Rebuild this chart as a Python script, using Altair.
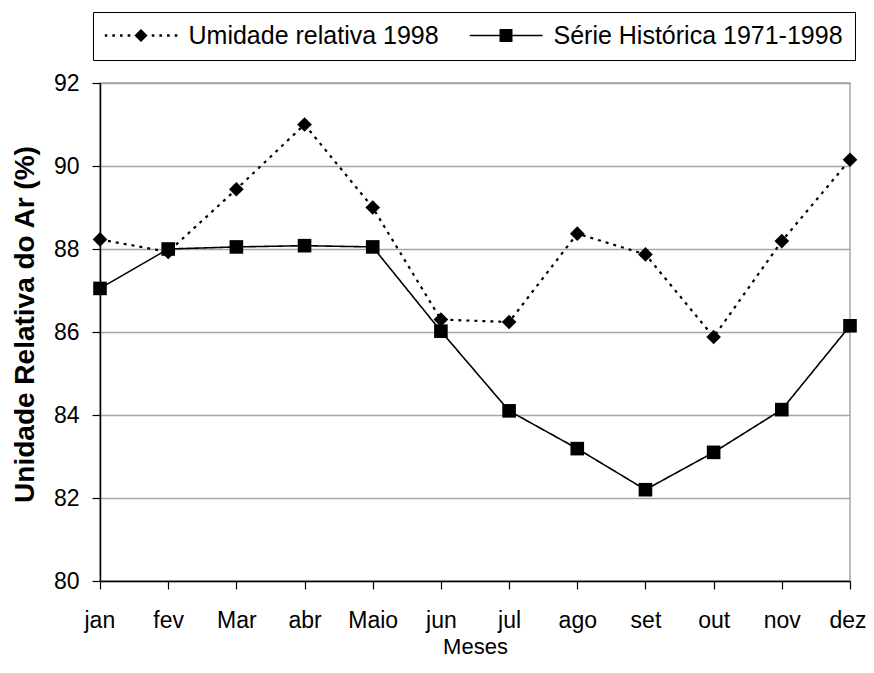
import altair as alt
import pandas as pd

months = ["jan", "fev", "Mar", "abr", "Maio", "jun", "jul", "ago", "set", "out", "nov", "dez"]
umidade_1998 = [88.23, 87.93, 89.44, 91.0, 89.0, 86.3, 86.24, 88.37, 87.87, 85.88, 88.19, 90.15]
serie_hist = [87.05, 88.0, 88.05, 88.08, 88.05, 86.02, 84.1, 83.19, 82.2, 83.1, 84.13, 86.15]
series = ["Umidade relativa 1998", "Série Histórica 1971-1998"]
y_ticks = [80, 82, 84, 86, 88, 90, 92]

rows = []
for m, v in zip(months, umidade_1998):
    rows.append({"mes": m, "valor": v, "serie": series[0]})
for m, v in zip(months, serie_hist):
    rows.append({"mes": m, "valor": v, "serie": series[1]})
df = pd.DataFrame(rows)

FONT = "Liberation Sans"

x_enc = alt.X(
    "mes:N",
    sort=months,
    scale=alt.Scale(type="point", padding=0),
    axis=alt.Axis(
        title="Meses",
        labelAngle=0,
        labelFontSize=23,
        labelFont=FONT,
        labelColor="black",
        labelBaseline="alphabetic",
        labelPadding=38,
        labelFlush=True,
        labelFlushOffset=16,
        tickSize=8,
        tickColor="black",
        tickWidth=1.2,
        domainColor="black",
        domainWidth=1.5,
        grid=False,
        titleFont=FONT,
        titleFontSize=22,
        titleFontWeight="normal",
        titleColor="black",
        titleBaseline="alphabetic",
        titleY=72,
    ),
)
y_enc = alt.Y(
    "valor:Q",
    scale=alt.Scale(domain=[80, 92], nice=False, zero=False),
    axis=alt.Axis(
        title="Unidade Relativa do Ar (%)",
        values=y_ticks,
        labelFontSize=23,
        labelFont=FONT,
        labelColor="black",
        labelPadding=13,
        tickSize=8,
        tickColor="black",
        tickWidth=1.2,
        domainColor="black",
        domainWidth=1.5,
        grid=True,
        gridColor="#a6a6a6",
        gridWidth=1.5,
        titleFont=FONT,
        titleFontSize=28,
        titleFontWeight="bold",
        titleColor="black",
        titleBaseline="alphabetic",
        titleX=-67,
        titleY=241,
    ),
)

base = alt.Chart(df)

lines = base.mark_line(color="black").encode(
    x=x_enc,
    y=y_enc,
    detail="serie:N",
    strokeDash=alt.StrokeDash(
        "serie:N",
        scale=alt.Scale(domain=series, range=[[3, 5], [1, 0]]),
        legend=None,
    ),
    strokeWidth=alt.StrokeWidth(
        "serie:N",
        scale=alt.Scale(domain=series, range=[2.2, 1.6]),
        legend=None,
    ),
)

points = base.mark_point(filled=True, color="black", opacity=1).encode(
    x=x_enc,
    y=y_enc,
    shape=alt.Shape(
        "serie:N",
        scale=alt.Scale(domain=series, range=["diamond", "square"]),
        legend=None,
    ),
    size=alt.Size(
        "serie:N",
        scale=alt.Scale(domain=series, range=[215, 185]),
        legend=None,
    ),
)

# legend symbols: dotted line with diamond, solid line with square
dot = 0.036
def dot_rect(c):
    return f"M{c - dot:.3f},{-dot:.3f}H{c + dot:.3f}V{dot:.3f}H{c - dot:.3f}Z"

diamond_sym = "M0,-0.18L0.18,0L0,0.18L-0.18,0Z" + "".join(
    dot_rect(c) for c in [-0.96, -0.75, -0.54, -0.33, 0.33, 0.54, 0.75, 0.96]
)
square_sym = "M-1,-0.022H1V0.022H-1Z M-0.178,-0.178H0.178V0.178H-0.178Z"

legend_layer = (
    base.transform_filter("false")
    .mark_point(filled=True, color="black", opacity=1)
    .encode(
        x=x_enc,
        y=y_enc,
        shape=alt.Shape(
            "serie:N",
            scale=alt.Scale(domain=series, range=[diamond_sym, square_sym]),
            legend=alt.Legend(
                title=None,
                orient="none",
                legendX=-7,
                legendY=-71,
                direction="horizontal",
                strokeColor="black",
                padding=11.5,
                labelFont=FONT,
                labelFontSize=25,
                labelColor="black",
                labelLimit=500,
                labelOffset=11,
                symbolSize=5329,
                symbolStrokeWidth=0,
                symbolFillColor="black",
                symbolOffset=0,
                columnPadding=30,
                clipHeight=24,
            ),
        ),
    )
)

chart = (
    alt.layer(lines, points, legend_layer)
    .resolve_scale(shape="independent")
    .properties(
        width=750,
        height=498,
        autosize=alt.AutoSizeParams(type="none"),
        padding={"left": 92, "top": 75, "right": 16, "bottom": 80},
        background="white",
    )
    .configure_view(stroke="#a6a6a6", strokeWidth=1.5)
)

chart.save("out.html", embed_options={"renderer": "svg", "actions": False})
